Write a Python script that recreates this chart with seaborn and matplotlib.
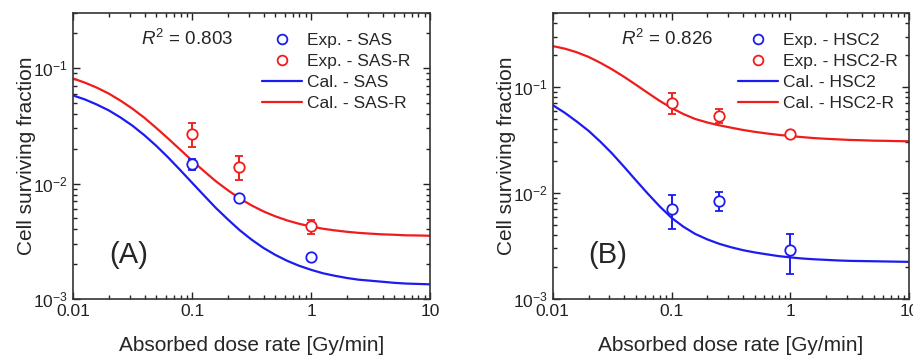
import matplotlib
matplotlib.use('Agg')
import matplotlib.pyplot as plt
from matplotlib.lines import Line2D
import pandas as pd
import seaborn as sns

# dose rates at which the calculated curves were read [Gy/min]
dose_rate = [0.01, 0.0126, 0.0158, 0.02, 0.0251, 0.0316, 0.0398, 0.0501, 0.0631, 0.0794,
             0.1, 0.126, 0.158, 0.2, 0.251, 0.316, 0.398, 0.501, 0.631, 0.794,
             1, 1.26, 1.58, 2, 2.51, 3.16, 3.98, 5.01, 6.31, 7.94, 10]

# calculated surviving fractions
sas_cal = [0.0580, 0.0535, 0.0484, 0.0430, 0.0373, 0.0317, 0.0262, 0.0212, 0.0168, 0.01312,
           0.01017, 0.00789, 0.00617, 0.00489, 0.00395, 0.00327, 0.00277, 0.00241, 0.00214,
           0.00194, 0.00179, 0.00167, 0.00159, 0.00152, 0.00147, 0.00144, 0.00141, 0.00138,
           0.00136, 0.00135, 0.00134]
sasr_cal = [0.0813, 0.0748, 0.0678, 0.0601, 0.0522, 0.0445, 0.0371, 0.0303, 0.0245, 0.0197,
            0.0158, 0.01282, 0.01050, 0.00875, 0.00745, 0.00647, 0.00574, 0.00520, 0.00479,
            0.00448, 0.00425, 0.00406, 0.00393, 0.00382, 0.00374, 0.00368, 0.00363, 0.00360,
            0.00356, 0.00355, 0.00353]
hsc2_cal = [0.0676, 0.0573, 0.0476, 0.0387, 0.0306, 0.0236, 0.0177, 0.01318, 0.00986, 0.00748,
            0.00583, 0.00480, 0.00411, 0.00365, 0.00332, 0.00308, 0.00289, 0.00275, 0.00264,
            0.00254, 0.00247, 0.00241, 0.00237, 0.00234, 0.00231, 0.00229, 0.00228, 0.00227,
            0.00226, 0.00225, 0.00224]
hsc2r_cal = [0.2438, 0.2307, 0.2138, 0.1928, 0.1698, 0.1469, 0.1250, 0.1052, 0.0881, 0.0741,
             0.0634, 0.0556, 0.0500, 0.0463, 0.0436, 0.0414, 0.0394, 0.0378, 0.0365,
             0.0354, 0.0345, 0.0337, 0.0330, 0.0325, 0.0321, 0.0317, 0.0315, 0.0312,
             0.0311, 0.0309, 0.0308]

# experimental points: value, lower and upper end of the error bar
exp_dose = [0.1, 0.25, 1]
sas_exp = [0.0147, 0.0075, 0.0023]
sas_lo = [0.0130, 0.0071, 0.0022]
sas_hi = [0.0164, 0.0079, 0.0024]
sasr_exp = [0.0271, 0.0139, 0.0043]
sasr_lo = [0.0206, 0.0107, 0.00365]
sasr_hi = [0.0335, 0.0173, 0.00482]
hsc2_exp = [0.00706, 0.0085, 0.00292]
hsc2_lo = [0.0046, 0.0068, 0.00172]
hsc2_hi = [0.0095, 0.0103, 0.00413]
hsc2r_exp = [0.0711, 0.0532, 0.036]
hsc2r_lo = [0.0556, 0.0461, 0.0345]
hsc2r_hi = [0.0871, 0.0616, 0.0375]

x_ticks = [0.01, 0.1, 1, 10]
x_tick_labels = ['0.01', '0.1', '1', '10']

BLUE = '#1c1cf0'
RED = '#f01c1c'

sns.set_style('ticks')
plt.rcParams['font.family'] = ['Liberation Sans', 'DejaVu Sans']
plt.rcParams['mathtext.fontset'] = 'custom'
plt.rcParams['mathtext.rm'] = 'Liberation Sans'
plt.rcParams['mathtext.it'] = 'Liberation Sans:italic'
plt.rcParams['mathtext.bf'] = 'Liberation Sans:bold'


def draw_panel(ax, names, cals, exps, los, his, r2, tag, ylim, leg_x, r2_x, tag_x):
    df = pd.DataFrame({
        'dose': dose_rate * 2,
        'sf': cals[0] + cals[1],
        'line': [names[0]] * len(dose_rate) + [names[1]] * len(dose_rate),
    })
    sns.lineplot(data=df, x='dose', y='sf', hue='line', palette=[BLUE, RED],
                 ax=ax, legend=False, lw=1.6)
    for y, lo, hi, c in zip(exps, los, his, [BLUE, RED]):
        err = [[v - l for v, l in zip(y, lo)], [h - v for v, h in zip(y, hi)]]
        ax.errorbar(exp_dose, y, yerr=err, fmt='o', ms=7.5, mfc='white', mec=c, mew=1.3,
                    ecolor=c, elinewidth=1.4, capsize=3, capthick=1.4, zorder=3)

    ax.set_xscale('log')
    ax.set_yscale('log')
    ax.set_xlim(0.01, 10)
    ax.set_ylim(*ylim)
    ax.set_xticks(x_ticks)
    ax.set_xticklabels(x_tick_labels)
    ax.tick_params(which='both', direction='in', top=True, right=True,
                   labelsize=12.5, width=1.0, colors='#222222')
    ax.tick_params(which='major', length=5)
    ax.tick_params(which='minor', length=3)
    for s in ax.spines.values():
        s.set_linewidth(1.2)
        s.set_color('#333333')
    ax.set_xlabel('Absorbed dose rate [Gy/min]', fontsize=15, labelpad=12)
    ax.set_ylabel('Cell surviving fraction', fontsize=15, labelpad=-2)

    handles = [
        Line2D([], [], marker='o', ls='none', ms=7, mfc='none', mec=BLUE, mew=1.3),
        Line2D([], [], marker='o', ls='none', ms=7, mfc='none', mec=RED, mew=1.3),
        Line2D([], [], color=BLUE, lw=1.6),
        Line2D([], [], color=RED, lw=1.6),
    ]
    labels = ['Exp. - ' + names[0], 'Exp. - ' + names[1],
              'Cal. - ' + names[0], 'Cal. - ' + names[1]]
    ax.legend(handles, labels, loc='upper left', bbox_to_anchor=(leg_x, 0.93),
              frameon=False, fontsize=12.5, handlelength=2.3, handletextpad=0.3,
              labelspacing=0.34, borderpad=0, borderaxespad=0)
    ax.text(r2_x, 0.91, r'$\mathit{R}^2$ = ' + r2, transform=ax.transAxes,
            ha='center', va='center', fontsize=13.5)
    ax.text(tag_x, 0.155, tag, transform=ax.transAxes, ha='center', va='center',
            fontsize=21)


fig = plt.figure(figsize=(9.13, 3.57), dpi=100)
ax_a = fig.add_axes([0.080, 0.1625, 0.391, 0.801])
ax_b = fig.add_axes([0.6054, 0.1625, 0.3906, 0.801])

draw_panel(ax_a, ['SAS', 'SAS-R'], [sas_cal, sasr_cal], [sas_exp, sasr_exp],
           [sas_lo, sasr_lo], [sas_hi, sasr_hi], '0.803', '(A)', (1e-3, 0.3),
           0.529, 0.32, 0.155)
draw_panel(ax_b, ['HSC2', 'HSC2-R'], [hsc2_cal, hsc2r_cal], [hsc2_exp, hsc2r_exp],
           [hsc2_lo, hsc2r_lo], [hsc2_hi, hsc2r_hi], '0.826', '(B)', (1e-3, 0.5),
           0.519, 0.32, 0.153)

fig.savefig('out.png', dpi=100)
